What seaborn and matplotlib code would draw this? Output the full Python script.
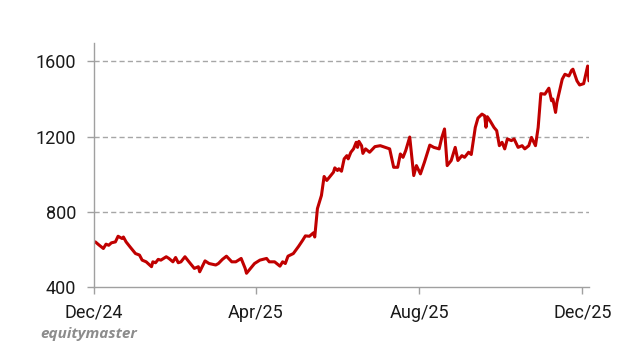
import matplotlib
matplotlib.use("Agg")
import matplotlib.pyplot as plt
import seaborn as sns
import pandas as pd

dates = [
    "2024-12-02", "2024-12-05", "2024-12-08", "2024-12-10", "2024-12-12", "2024-12-14",
    "2024-12-17", "2024-12-19", "2024-12-22", "2024-12-23", "2024-12-25", "2024-12-28",
    "2025-01-01", "2025-01-04", "2025-01-06", "2025-01-09", "2025-01-13", "2025-01-14",
    "2025-01-16", "2025-01-18", "2025-01-20", "2025-01-24", "2025-01-26", "2025-01-29",
    "2025-01-31", "2025-02-02", "2025-02-04", "2025-02-07", "2025-02-10", "2025-02-14",
    "2025-02-17", "2025-02-18", "2025-02-22", "2025-02-25", "2025-03-02", "2025-03-04",
    "2025-03-07", "2025-03-10", "2025-03-14", "2025-03-17", "2025-03-21", "2025-03-24",
    "2025-03-25", "2025-03-28", "2025-03-31", "2025-04-04", "2025-04-09", "2025-04-11",
    "2025-04-15", "2025-04-19", "2025-04-21", "2025-04-23", "2025-04-25", "2025-04-29",
    "2025-05-03", "2025-05-06", "2025-05-08", "2025-05-11", "2025-05-14", "2025-05-15",
    "2025-05-17", "2025-05-20", "2025-05-22", "2025-05-24", "2025-05-27", "2025-05-29",
    "2025-05-30", "2025-06-01", "2025-06-02", "2025-06-04", "2025-06-06", "2025-06-08",
    "2025-06-09", "2025-06-11", "2025-06-13", "2025-06-15", "2025-06-16", "2025-06-17",
    "2025-06-19", "2025-06-20", "2025-06-22", "2025-06-25", "2025-06-29", "2025-07-03",
    "2025-07-05", "2025-07-10", "2025-07-13", "2025-07-16", "2025-07-18", "2025-07-20",
    "2025-07-22", "2025-07-25", "2025-07-28", "2025-07-30", "2025-08-02", "2025-08-05",
    "2025-08-09", "2025-08-12", "2025-08-16", "2025-08-18", "2025-08-20", "2025-08-22",
    "2025-08-25", "2025-08-28", "2025-08-30", "2025-09-02", "2025-09-04", "2025-09-07",
    "2025-09-09", "2025-09-12", "2025-09-14", "2025-09-17", "2025-09-19", "2025-09-20",
    "2025-09-21", "2025-09-23", "2025-09-26", "2025-09-28", "2025-09-30", "2025-10-02",
    "2025-10-04", "2025-10-06", "2025-10-09", "2025-10-11", "2025-10-14", "2025-10-17",
    "2025-10-19", "2025-10-22", "2025-10-24", "2025-10-27", "2025-10-29", "2025-10-31",
    "2025-11-03", "2025-11-06", "2025-11-08", "2025-11-09", "2025-11-11", "2025-11-12",
    "2025-11-16", "2025-11-18", "2025-11-21", "2025-11-23", "2025-11-24", "2025-11-27",
    "2025-11-29", "2025-12-02", "2025-12-05", "2025-12-06",
]

prices = [
    640, 622, 605, 628, 622, 635,
    640, 670, 658, 666, 640, 613,
    578, 570, 543, 534, 508, 534,
    529, 547, 543, 561, 552, 534,
    557, 529, 534, 561, 534, 499,
    508, 481, 539, 525, 517, 525,
    547, 564, 534, 534, 552, 499,
    473, 499, 525, 543, 552, 534,
    534, 511, 534, 525, 564, 578,
    617, 649, 672, 670, 688, 666,
    817, 887, 988, 967, 993, 1011,
    1034, 1020, 1029, 1016, 1082, 1099,
    1082, 1117, 1135, 1170, 1143, 1175,
    1152, 1111, 1135, 1117, 1147, 1152,
    1147, 1135, 1037, 1037, 1108, 1090,
    1126, 1198, 993, 1046, 1002, 1064,
    1155, 1143, 1135, 1196, 1241, 1046,
    1073, 1143, 1073, 1099, 1090, 1117,
    1105, 1249, 1299, 1320, 1311, 1250,
    1306, 1285, 1249, 1232, 1152, 1170,
    1135, 1188, 1179, 1188, 1143, 1152,
    1135, 1152, 1196, 1152, 1249, 1429,
    1426, 1458, 1391, 1400, 1329, 1382,
    1506, 1532, 1523, 1553, 1559, 1497,
    1475, 1482, 1576, 1497,
]

tick_dates = ["2024-12-01", "2025-04-01", "2025-08-01", "2025-12-01"]
tick_labels = ["Dec/24", "Apr/25", "Aug/25", "Dec/25"]
y_ticks = [400, 800, 1200, 1600]

df = pd.DataFrame({"date": pd.to_datetime(dates), "price": prices})

sns.set_theme(style="white")
plt.rcParams["font.family"] = ["Roboto", "DejaVu Sans"]

fig = plt.figure(figsize=(6.2, 3.5), dpi=100)
ax = fig.add_axes([0.1516, 0.18, 0.7984, 0.698])

sns.lineplot(data=df, x="date", y="price", ax=ax, color="#C00000", linewidth=2.2)

ax.set_xlim(pd.Timestamp("2024-12-01"), pd.Timestamp("2025-12-06"))
ax.set_ylim(400, 1700)
ax.set_yticks(y_ticks)
ax.set_xticks(pd.to_datetime(tick_dates))
ax.set_xticklabels(tick_labels)
ax.set_xlabel("")
ax.set_ylabel("")

for y in y_ticks[1:]:
    ax.axhline(y, color="#A6A6A6", linestyle=(0, (3.7, 2.3)), linewidth=1.0, zorder=0)

for side in ["top", "right"]:
    ax.spines[side].set_visible(False)
for side in ["left", "bottom"]:
    ax.spines[side].set_color("#A0A0A0")
    ax.spines[side].set_linewidth(1.0)

ax.tick_params(axis="both", which="major", length=5, width=1.0, color="#A0A0A0",
               labelsize=13, labelcolor="#1a1a1a", direction="out")
ax.tick_params(axis="x", bottom=True, pad=7)
ax.tick_params(axis="y", left=True, pad=8)

fig.text(0.065, 0.035, "equitymaster", fontsize=11, fontweight="bold", fontstyle="italic",
         color="#8C8C8C", family=["Open Sans", "DejaVu Sans"])

fig.savefig("out.png", dpi=100)
